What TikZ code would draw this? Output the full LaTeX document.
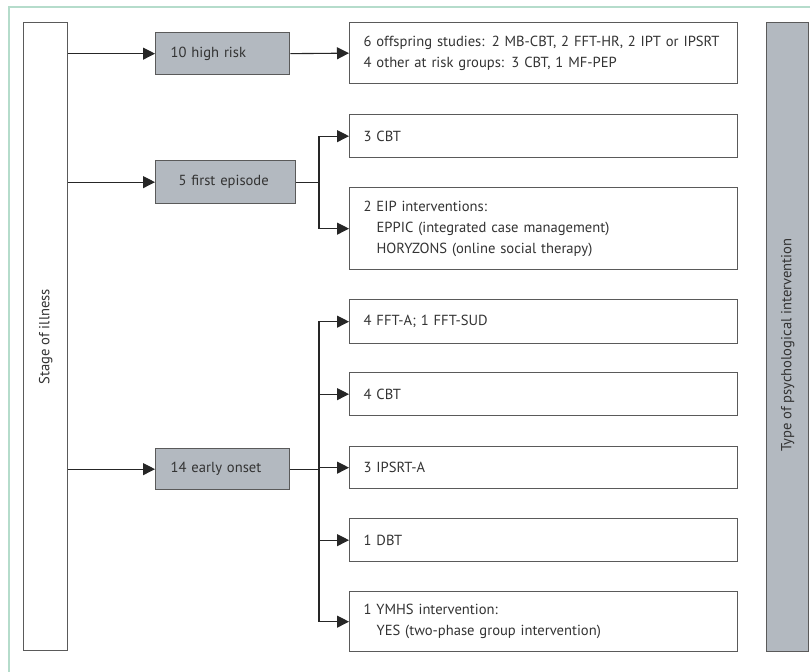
\documentclass[tikz,border=0pt]{standalone}
\usepackage{fontspec}
\setmainfont{PT Sans}
\usetikzlibrary{arrows.meta}
\definecolor{framecol}{HTML}{B5DCCB}
\definecolor{boxfill}{HTML}{B3B9C0}
\definecolor{edgecol}{HTML}{5A5A5A}
\definecolor{txt}{HTML}{333333}
\begin{document}
\begin{tikzpicture}[x=1pt,y=-1pt,
  font=\fontsize{14.6}{21}\selectfont,
  every node/.style={text=txt},
  wbox/.style={draw=edgecol,line width=1.3pt,fill=white,anchor=north west,minimum width=387pt,text width=360pt,inner xsep=14pt,align=left,inner ysep=0pt},
  gbox/.style={draw=edgecol,line width=1.3pt,fill=boxfill,anchor=north west,minimum width=134pt,text width=104pt,inner xsep=15pt,align=left,inner ysep=0pt},
  arr/.style={draw=black!85,line width=1.1pt,-{Triangle[length=12pt,width=12pt]}},
  ln/.style={draw=black!85,line width=1.1pt}]
\useasboundingbox (0,0) rectangle (810,671);
\fill[white] (0,0) rectangle (810,671);
\draw[framecol,line width=1.3pt] (9,672) -- (9,7) -- (811,7);
% side bars
\node[draw=edgecol,line width=1.3pt,fill=white,anchor=north west,minimum width=44pt,minimum height=628pt,inner sep=0pt] (stage) at (23,22) {};
\node[rotate=90] (stagetxt) at (stage.center) {Stage of illness};
\node[draw=edgecol,line width=1.3pt,fill=boxfill,anchor=north west,minimum width=42pt,minimum height=629pt,inner sep=0pt] (type) at (766,22) {};
\node[rotate=90] (typetxt) at ([yshift=-8pt]type.center) {Type of psychological intervention};
% stage nodes
\node[gbox,minimum height=42pt] (hr) at (155,32) {10 high risk};
\node[gbox,minimum height=43pt,text width=94pt,inner xsep=23pt] (fe) at (155,160) {5 first episode};
\node[gbox,minimum height=41pt] (eo) at (155,448) {14 early onset};
% intervention boxes
\node[wbox,minimum height=61pt] (b1) at (349,22) {6 offspring studies: 2 MB-CBT, 2 FFT-HR, 2 IPT or IPSRT\\4 other at risk groups: 3 CBT, 1 MF-PEP};
\node[wbox,minimum height=43pt] (b2) at (349,114) {3 CBT};
\node[wbox,minimum height=82pt] (b3) at (349,187) {2 EIP interventions:\\\hspace*{13pt}EPPIC (integrated case management)\\\hspace*{13pt}HORYZONS (online social therapy)};
\node[wbox,minimum height=44pt] (b4) at (349,299) {4 FFT-A; 1 FFT-SUD};
\node[wbox,minimum height=43pt] (b5) at (349,372) {4 CBT};
\node[wbox,minimum height=42pt] (b6) at (349,446) {3 IPSRT-A};
\node[wbox,minimum height=43pt] (b7) at (349,518) {1 DBT};
\node[wbox,minimum height=60pt] (b8) at (349,591) {1 YMHS intervention:\\\hspace*{13pt}YES (two-phase group intervention)};
% connectors
\draw[arr] (hr.west -| stage.east) -- (hr.west);
\draw[arr] (fe.west -| stage.east) -- (fe.west);
\draw[arr] (eo.west -| stage.east) -- (eo.west);
\draw[arr] (hr.east) -- (b1.west);
\coordinate (j1) at (319,0 |- fe.east);
\coordinate (j2) at (319,0 |- eo.east);
\draw[ln] (fe.east) -- (j1);
\draw[arr] (j1) |- (b2.west);
\draw[arr] (j1) |- (b3.west);
\draw[ln] (eo.east) -- (j2);
\draw[arr] (j2) |- (b4.west);
\draw[arr] (j2) |- (b5.west);
\draw[arr] (j2) -- (b6.west -| j2) -- (b6.west);
\draw[arr] (j2) |- (b7.west);
\draw[arr] (j2) |- (b8.west);
\end{tikzpicture}
\end{document}
